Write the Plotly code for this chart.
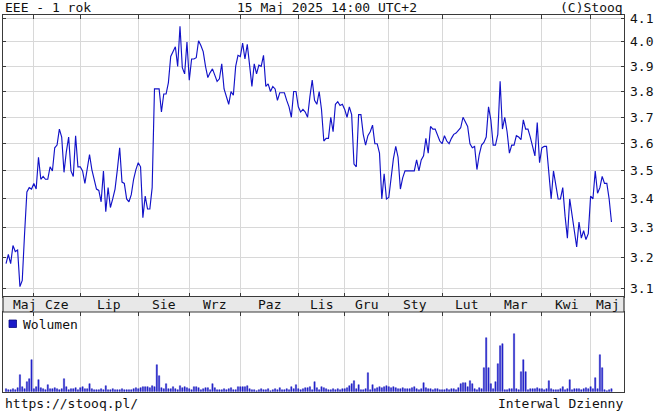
import math
import plotly.graph_objects as go

# ---------------- data ----------------
price = [
    3.18, 3.21, 3.18, 3.24, 3.22, 3.225, 3.105, 3.125, 3.28, 3.425,
    3.44, 3.435, 3.455, 3.435, 3.55, 3.47, 3.48, 3.47, 3.47, 3.515,
    3.50, 3.585, 3.595, 3.655, 3.625, 3.495, 3.57, 3.625, 3.50, 3.48,
    3.63, 3.515, 3.515, 3.50, 3.455, 3.51, 3.56, 3.505, 3.465, 3.435,
    3.43, 3.39, 3.50, 3.355, 3.44, 3.37, 3.40, 3.435, 3.505, 3.585,
    3.46, 3.455, 3.40, 3.39, 3.415, 3.47, 3.505, 3.53, 3.515, 3.335,
    3.41, 3.365, 3.365, 3.44, 3.81, 3.81, 3.81, 3.72, 3.79, 3.79,
    3.835, 3.94, 3.96, 3.98, 3.90, 4.065, 3.895, 3.87, 4.00, 3.845,
    3.93, 3.93, 3.935, 4.005, 3.985, 3.96, 3.90, 3.855, 3.875, 3.89,
    3.865, 3.84, 3.85, 3.91, 3.81, 3.78, 3.75, 3.80, 3.785, 3.90,
    3.945, 3.94, 3.995, 3.93, 3.99, 3.905, 3.82, 3.91, 3.87, 3.905,
    3.90, 3.945, 3.82, 3.83, 3.80, 3.82, 3.81, 3.765, 3.795, 3.795,
    3.795, 3.765, 3.74, 3.70, 3.80, 3.80, 3.74, 3.72, 3.73, 3.72,
    3.70, 3.78, 3.845, 3.765, 3.75, 3.80, 3.73, 3.61, 3.62, 3.62,
    3.70, 3.645, 3.75, 3.76, 3.745, 3.75, 3.73, 3.70, 3.74, 3.71,
    3.525, 3.515, 3.71, 3.71, 3.635, 3.595, 3.63, 3.645, 3.67, 3.60,
    3.60, 3.565, 3.40, 3.49, 3.40, 3.405, 3.475, 3.545, 3.59, 3.55,
    3.435, 3.475, 3.50, 3.50, 3.50, 3.50, 3.50, 3.54, 3.50, 3.54,
    3.555, 3.62, 3.565, 3.665, 3.655, 3.655, 3.635, 3.61, 3.60, 3.63,
    3.61, 3.60, 3.62, 3.635, 3.64, 3.65, 3.66, 3.70, 3.68, 3.665,
    3.60, 3.585, 3.59, 3.505, 3.56, 3.595, 3.605, 3.625, 3.74, 3.69,
    3.595, 3.595, 3.635, 3.84, 3.655, 3.70, 3.645, 3.565, 3.595, 3.595,
    3.63, 3.625, 3.615, 3.69, 3.655, 3.655, 3.625, 3.585, 3.555, 3.68,
    3.53, 3.585, 3.59, 3.59, 3.50, 3.40, 3.50, 3.44, 3.40, 3.40,
    3.44, 3.34, 3.265, 3.40, 3.345, 3.305, 3.235, 3.32, 3.265, 3.29,
    3.26, 3.28, 3.41, 3.40, 3.50, 3.42, 3.44, 3.48, 3.455, 3.455,
    3.40, 3.32,
]

volume = [
    3, 2, 2, 3, 2, 4, 17, 5, 3, 10, 13, 32, 3, 5, 12, 4, 3, 2, 7, 3,
    3, 4, 3, 2, 3, 13, 5, 2, 3, 3, 4, 2, 4, 5, 3, 3, 8, 3, 2, 2,
    2, 3, 2, 6, 2, 2, 3, 2, 2, 2, 3, 2, 2, 2, 2, 3, 4, 3, 4, 5,
    5, 5, 4, 6, 5, 27, 16, 4, 3, 8, 3, 3, 5, 3, 2, 6, 4, 5, 4, 3,
    2, 5, 5, 4, 2, 3, 4, 4, 2, 8, 4, 2, 2, 2, 3, 2, 3, 4, 2, 2,
    5, 5, 5, 5, 6, 3, 2, 2, 1, 2, 3, 2, 2, 3, 1, 2, 3, 2, 4, 2,
    2, 3, 2, 5, 3, 7, 3, 2, 3, 4, 4, 5, 2, 10, 4, 2, 5, 4, 3, 2,
    2, 3, 2, 3, 2, 3, 3, 4, 6, 8, 11, 3, 7, 2, 2, 3, 19, 2, 7, 3,
    4, 5, 4, 5, 6, 5, 4, 5, 4, 3, 3, 4, 3, 3, 3, 4, 5, 3, 2, 3,
    9, 4, 3, 3, 2, 3, 3, 2, 2, 2, 3, 2, 3, 3, 2, 4, 8, 9, 9, 5,
    11, 8, 3, 2, 4, 3, 24, 54, 24, 8, 3, 10, 28, 46, 48, 2, 2, 3, 3, 58,
    3, 2, 20, 32, 20, 2, 3, 3, 3, 4, 3, 3, 2, 3, 11, 3, 2, 2, 2, 3,
    5, 2, 3, 12, 2, 3, 3, 3, 2, 3, 4, 3, 5, 3, 14, 3, 37, 24, 2, 1,
    2, 3,
]

month_labels = ["Maj", "Cze", "Lip", "Sie", "Wrz", "Paz", "Lis", "Gru",
                "Sty", "Lut", "Mar", "Kwi", "Maj"]
month_starts = [12, 32, 57, 79, 101, 126, 146, 165, 188, 209, 231, 252]
price_ticks = [3.1, 3.2, 3.3, 3.4, 3.5, 3.6, 3.7, 3.8, 3.9, 4.0, 4.1]

n = min(len(price), len(volume))
price = price[:n]
volume = volume[:n]
idx = list(range(n))

# ---------------- layout geometry (pixels) ----------------
W, H = 654, 413
L, R = 3, 624
P_TOP, P_BOT = 15, 296.5
BAND_BOT = 312
V_BOT = 391.7
X_RANGE = [-1.3, 266.4]
Y_RANGE = [math.log10(3.0735), math.log10(4.113)]
V_RANGE = [0, 79.7]

BLUE = "#1212c8"
GRID = "#d8d8d8"
FRAME = "#3a3a3a"
FONT = "DejaVu Sans Mono"
TXT = "#111"


def fx(px):
    return px / W


def fy(py):
    return 1 - py / H


fig = go.Figure()
fig.add_trace(go.Scatter(x=idx, y=price, mode="lines",
                         line=dict(color=BLUE, width=1.15),
                         xaxis="x", yaxis="y", hoverinfo="skip"))
fig.add_trace(go.Bar(x=idx, y=volume, width=0.55,
                     marker=dict(color="#2a2ad0", line=dict(color="#1010b8", width=0.4)),
                     xaxis="x2", yaxis="y2", hoverinfo="skip"))

common_x = dict(range=X_RANGE, tickvals=month_starts, showticklabels=False,
                ticks="inside", ticklen=4, tickcolor=FRAME, tickwidth=1,
                showgrid=True, gridcolor=GRID, gridwidth=1,
                showline=True, linecolor=FRAME, linewidth=1.2,
                zeroline=False, fixedrange=True, automargin=False)

fig.update_layout(
    width=W, height=H,
    margin=dict(l=0, r=0, t=0, b=0, pad=0),
    paper_bgcolor="white", plot_bgcolor="white",
    showlegend=False,
    hovermode=False,
    font=dict(family=FONT, size=13, color=TXT),
    xaxis=dict(domain=[fx(L), fx(R)], anchor="y", mirror="ticks", **common_x),
    yaxis=dict(domain=[fy(P_BOT), fy(P_TOP)], anchor="x", type="log",
               range=Y_RANGE, side="right",
               tickvals=price_ticks, showticklabels=False,
               ticks="inside", ticklen=3, tickcolor=FRAME,
               showgrid=True, gridcolor=GRID, gridwidth=1,
               showline=True, linecolor=FRAME, linewidth=1.2, mirror="ticks",
               zeroline=False, fixedrange=True, automargin=False),
    xaxis2=dict(domain=[fx(L), fx(R)], anchor="y2", side="top", mirror=True,
                **common_x),
    yaxis2=dict(domain=[fy(V_BOT), fy(BAND_BOT)], anchor="x2", range=V_RANGE,
                showticklabels=False, ticks="", showgrid=False,
                showline=True, linecolor=FRAME, linewidth=1.2, mirror=True,
                zeroline=False, fixedrange=True, automargin=False),
    bargap=0,
)

# price axis labels on the right
for v in price_ticks:
    fig.add_annotation(x=fx(R + 3.5), xref="paper", y=math.log10(v), yref="y",
                       text=f"{v:.1f}", showarrow=False, xanchor="left", yanchor="middle",
                       font=dict(family=FONT, size=13, color=TXT))

# month band
fig.add_shape(type="rect", xref="paper", yref="paper",
              x0=fx(L), x1=fx(R), y0=fy(BAND_BOT), y1=fy(P_BOT),
              fillcolor="#e8e8e8", line=dict(color=FRAME, width=1.2), layer="above")

bounds = [X_RANGE[0]] + month_starts + [X_RANGE[1]]
for i, lab in enumerate(month_labels):
    pos = (bounds[i] + bounds[i + 1]) / 2
    if i == 0:
        pos = max(pos, 8)
    fig.add_annotation(x=pos, xref="x", y=fy((P_BOT + BAND_BOT) / 2 + 0.5), yref="paper",
                       text=lab, showarrow=False, xanchor="center", yanchor="middle",
                       font=dict(family=FONT, size=13, color=TXT))

# header / footer texts
fig.add_annotation(x=fx(3), y=fy(7.5), xref="paper", yref="paper", text="EEE - 1 rok",
                   showarrow=False, xanchor="left", yanchor="middle")
fig.add_annotation(x=0.5, y=fy(7.5), xref="paper", yref="paper",
                   text="15 Maj 2025 14:00 UTC+2",
                   showarrow=False, xanchor="center", yanchor="middle")
fig.add_annotation(x=fx(R + 1), y=fy(7.5), xref="paper", yref="paper", text="(C)Stooq",
                   showarrow=False, xanchor="right", yanchor="middle")
fig.add_annotation(x=fx(3), y=fy(403), xref="paper", yref="paper", text="https://stooq.pl/",
                   showarrow=False, xanchor="left", yanchor="middle")
fig.add_annotation(x=fx(R + 1), y=fy(403), xref="paper", yref="paper", text="Interwal Dzienny",
                   showarrow=False, xanchor="right", yanchor="middle")

# volume legend
fig.add_shape(type="rect", xref="paper", yref="paper",
              x0=fx(9), x1=fx(16.5), y0=fy(327.5), y1=fy(320),
              fillcolor="#1a1ac8", line=dict(color="#0a0a80", width=0.8))
fig.add_annotation(x=fx(20.5), y=fy(324), xref="paper", yref="paper", text="Wolumen",
                   showarrow=False, xanchor="left", yanchor="middle")

fig.write_html("out.html",
               config={"displayModeBar": False, "staticPlot": True},
               post_script="document.body.style.margin='0';document.body.style.overflow='hidden';")
